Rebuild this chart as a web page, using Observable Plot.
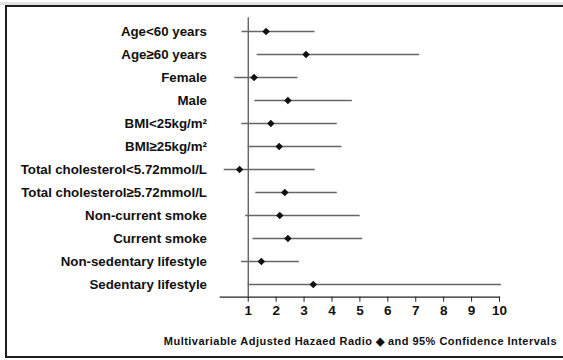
<!DOCTYPE html>
<html>
<head>
<meta charset="utf-8">
<script src="https://cdn.jsdelivr.net/npm/d3@7"></script>
<script src="https://cdn.jsdelivr.net/npm/@observablehq/plot@0.6"></script>
<style>
  html, body { margin: 0; padding: 0; background: #fff; overflow: hidden; }
  #wrap { position: relative; width: 563px; height: 360px; overflow: hidden; font-family: "Liberation Sans", Arial, sans-serif; }
  #topband { position: absolute; left: 0; top: 2px; width: 563px; height: 3px; background: #e2e2e2; }
  #border { position: absolute; left: 5px; top: 5px; width: 620px; height: 349px; border: 2.6px solid #1e1e1e; }
  #chart { position: absolute; left: 0; top: 0; }
  #caption { position: absolute; right: 6px; top: 335px; font-size: 11px; font-weight: bold; letter-spacing: 0.47px; color: #111; white-space: nowrap; }
  svg text { font-weight: bold; }
</style>
</head>
<body>
<div id="wrap">
  <div id="topband"></div>
  <div id="border"></div>
  <div id="chart"></div>
  <div id="caption">Multivariable Adjusted Hazaed Radio ◆ and 95% Confidence Intervals</div>
</div>
<script>
const labels = [
  "Age<60 years",
  "Age≥60 years",
  "Female",
  "Male",
  "BMI<25kg/m²",
  "BMI≥25kg/m²",
  "Total cholesterol<5.72mmol/L",
  "Total cholesterol≥5.72mmol/L",
  "Non-current smoke",
  "Current smoke",
  "Non-sedentary lifestyle",
  "Sedentary lifestyle"
];
const hr = [1.64, 3.07, 1.21, 2.42, 1.81, 2.11, 0.69, 2.31, 2.13, 2.42, 1.47, 3.33];
const lo = [0.78, 1.32, 0.52, 1.24, 0.77, 1.00, 0.14, 1.27, 0.91, 1.17, 0.76, 1.00];
const hi = [3.39, 7.14, 2.78, 4.73, 4.19, 4.36, 3.40, 4.19, 5.01, 5.10, 2.83, 10.07];
const xTicks = [1, 2, 3, 4, 5, 6, 7, 8, 9, 10];

const data = labels.map((label, i) => ({label, hr: hr[i], lo: lo[i], hi: hi[i]}));

const chart = Plot.plot({
  width: 563,
  height: 360,
  marginLeft: 219.8,
  marginRight: 64,
  marginTop: 17.3,
  marginBottom: 63.3,
  x: {domain: [0, 10]},
  y: {domain: labels, padding: 0, insetTop: 12.7, insetBottom: 11.7},
  style: {fontFamily: "'Liberation Sans', Arial, sans-serif", background: "transparent", color: "#111"},
  marks: [
    Plot.ruleX([1], {stroke: "#3a3a3a", strokeWidth: 1.1}),
    Plot.frame({anchor: "bottom", stroke: "#222", strokeWidth: 1.3}),
    Plot.ruleY(data, {y: "label", x1: "lo", x2: "hi", stroke: "#666", strokeWidth: 1.3}),
    Plot.dot(data, {x: "hr", y: "label", symbol: "diamond2", fill: "#111", stroke: "none", r: 3.4}),
    Plot.axisX({ticks: xTicks, tickSize: 5, tickPadding: 3, fontSize: 13.5, fontWeight: "bold", label: null, stroke: "#222"}),
    Plot.axisY({tickSize: 0, tickPadding: 13.3, fontSize: 13.3, fontWeight: "bold", label: null})
  ]
});
document.getElementById("chart").appendChild(chart);
</script>
</body>
</html>
